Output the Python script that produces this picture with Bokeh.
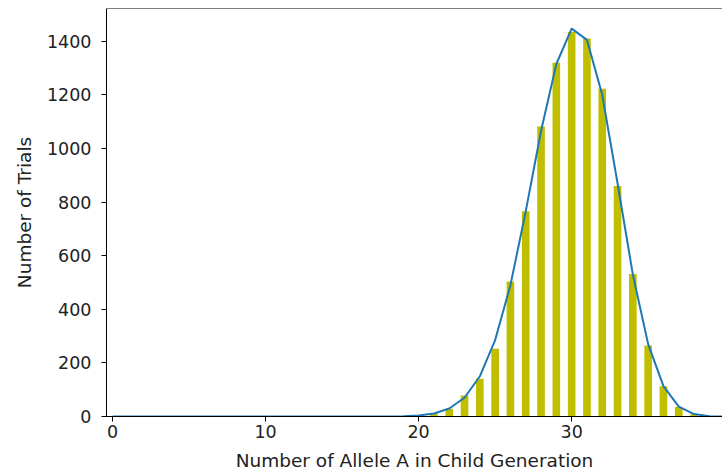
from bokeh.plotting import figure
from bokeh.models import Range1d, Span, FixedTicker
from bokeh.embed import file_html
from bokeh.resources import INLINE

# Observed counts (bars)
bar_x = list(range(20, 39))
bar_counts = [3, 12, 29, 78, 141, 253, 504, 766, 1082, 1320, 1434, 1410, 1223, 860, 532, 265, 113, 35, 8]

# Expected curve (line)
line_x = list(range(0, 41))
line_vals = [0] * 19 + [1, 4, 11, 30, 70, 150, 285, 490, 765, 1065, 1315, 1447, 1405,
                        1200, 870, 530, 270, 113, 37, 9, 1, 0]

y_ticks = [0, 200, 400, 600, 800, 1000, 1200, 1400]
x_ticks = [0, 10, 20, 30]

p = figure(width=722, height=476, output_backend="svg", toolbar_location=None,
           x_range=Range1d(-0.4, 39.86), y_range=Range1d(0, 1522),
           min_border_left=106, min_border_right=0, min_border_top=8, min_border_bottom=60)
p.outline_line_color = None
p.grid.visible = False
p.background_fill_color = "white"

p.vbar(x=bar_x, top=bar_counts, width=0.5, bottom=0, color="#bfbf00", line_color=None)
p.line(line_x, line_vals, line_width=2, color="#1f77b4")

p.add_layout(Span(location=1522, dimension="width", line_color="black", line_width=1))

for ax in (p.xaxis[0], p.yaxis[0]):
    ax.axis_line_color = "black"
    ax.axis_line_width = 1
    ax.major_tick_line_color = "black"
    ax.major_tick_out = 5
    ax.major_tick_in = 0
    ax.minor_tick_line_color = None
    ax.major_label_text_font = "DejaVu Sans"
    ax.major_label_text_font_size = "17.5px"
    ax.major_label_text_color = "#222222"
    ax.axis_label_text_font = "DejaVu Sans"
    ax.axis_label_text_font_size = "18.5px"
    ax.axis_label_text_font_style = "normal"
    ax.axis_label_text_color = "#222222"

p.xaxis[0].major_label_standoff = 3
p.yaxis[0].major_label_standoff = 10
p.xaxis[0].ticker = FixedTicker(ticks=x_ticks)
p.yaxis[0].ticker = FixedTicker(ticks=y_ticks)
p.xaxis[0].axis_label = "Number of Allele A in Child Generation"
p.yaxis[0].axis_label = "Number of Trials"
p.xaxis[0].axis_label_standoff = 9
p.yaxis[0].axis_label_standoff = 9

open("out.html", "w").write(file_html(p, INLINE))
